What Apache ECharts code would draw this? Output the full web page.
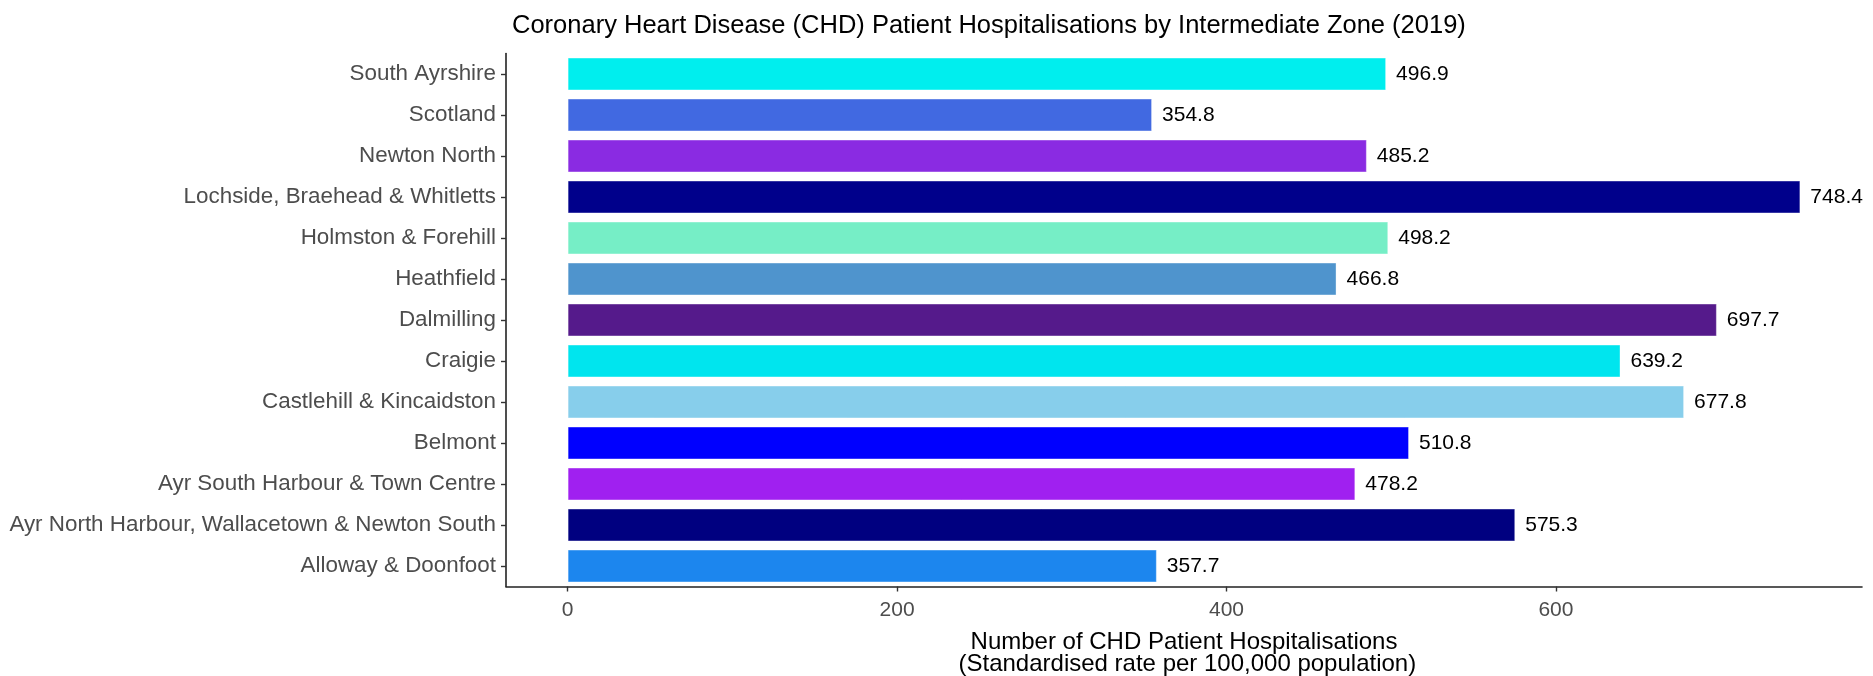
<!DOCTYPE html>
<html>
<head>
<meta charset="utf-8">
<script src="https://cdn.jsdelivr.net/npm/echarts@6/dist/echarts.min.js"></script>
<style>
  html, body { margin: 0; padding: 0; background: #fff; }
  #chart { width: 1873px; height: 676px; }
</style>
</head>
<body>
<div id="chart"></div>
<script>
// top to bottom, as in the picture
const zones = [
  'South Ayrshire',
  'Scotland',
  'Newton North',
  'Lochside, Braehead & Whitletts',
  'Holmston & Forehill',
  'Heathfield',
  'Dalmilling',
  'Craigie',
  'Castlehill & Kincaidston',
  'Belmont',
  'Ayr South Harbour & Town Centre',
  'Ayr North Harbour, Wallacetown & Newton South',
  'Alloway & Doonfoot'
]
const rates = [496.9, 354.8, 485.2, 748.4, 498.2, 466.8, 697.7, 639.2, 677.8, 510.8, 478.2, 575.3, 357.7]
const barColors = ['#00EEEE', '#4169E1', '#8A2BE2', '#00008B', '#76EEC6', '#4F94CD', '#551A8B',
  '#00E5EE', '#87CEEB', '#0000FF', '#A020F0', '#000080', '#1C86EE']
const xTicks = [0, 200, 400, 600]

const font = "'Liberation Sans', Arial, sans-serif"
const maxRate = Math.max(...rates)
const pad = maxRate * 0.05

let chart = echarts.init(document.getElementById('chart'), null, { renderer: 'canvas' })
let option = {
  backgroundColor: '#ffffff',
  animation: false,
  title: {
    text: 'Coronary Heart Disease (CHD) Patient Hospitalisations by Intermediate Zone (2019)',
    left: 507,
    top: 8,
    textStyle: { fontFamily: font, fontSize: 25.5, fontWeight: 'normal', color: '#000' }
  },
  grid: { left: 506, right: 11, top: 53.5, bottom: 89.5, containLabel: false, outerBoundsMode: 'none' },
  xAxis: {
    type: 'value',
    min: -pad,
    max: maxRate + pad,
    name: 'Number of CHD Patient Hospitalisations\n (Standardised rate per 100,000 population)',
    nameLocation: 'middle',
    nameGap: 45,
    nameTextStyle: { fontFamily: font, fontSize: 24, color: '#000', lineHeight: 22 },
    splitLine: { show: false },
    axisLine: { show: true, onZero: false, lineStyle: { color: '#222', width: 1.6 } },
    axisTick: { show: true, length: 5, lineStyle: { color: '#333', width: 1.4 }, customValues: xTicks },
    axisLabel: {
      fontFamily: font, fontSize: 21, color: '#4D4D4D', margin: 13,
      customValues: xTicks
    }
  },
  yAxis: {
    type: 'category',
    data: zones,
    inverse: true,
    axisLine: { show: true, onZero: false, lineStyle: { color: '#222', width: 1.6 } },
    axisTick: { show: true, alignWithLabel: true, length: 5, lineStyle: { color: '#333', width: 1.4 } },
    axisLabel: { fontFamily: font, fontSize: 22.4, color: '#4D4D4D', margin: 10 },
    splitLine: { show: false }
  },
  series: [{
    type: 'bar',
    data: rates.map((v, i) => ({ value: v, itemStyle: { color: barColors[i] } })),
    barWidth: '80%',
    itemStyle: { borderColor: 'rgba(255,255,255,0.35)', borderWidth: 1 },
    label: {
      show: true,
      position: 'right',
      distance: 10,
      fontFamily: font,
      fontSize: 21,
      color: '#000',
      formatter: p => p.value.toFixed(1)
    }
  }]
}
chart.setOption(option)
</script>
</body>
</html>
